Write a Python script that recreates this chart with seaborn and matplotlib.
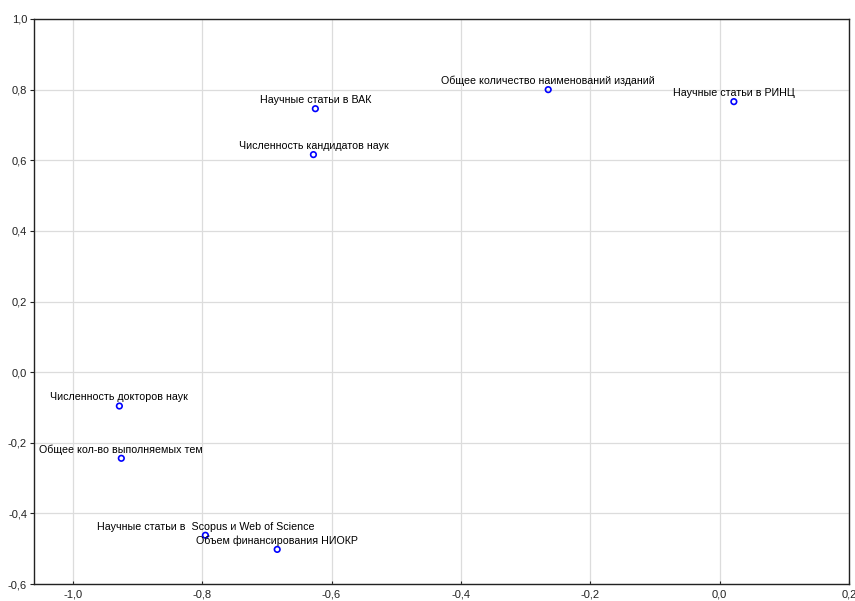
import matplotlib
matplotlib.use("Agg")
import matplotlib.pyplot as plt
import seaborn as sns
import pandas as pd
from matplotlib.ticker import FuncFormatter, MultipleLocator

labels = [
    "Научные статьи в ВАК",
    "Численность кандидатов наук",
    "Общее количество наименований изданий",
    "Научные статьи в РИНЦ",
    "Численность докторов наук",
    "Общее кол-во выполняемых тем",
    "Научные статьи в  Scopus и Web of Science",
    "Объем финансирования НИОКР",
]
x_vals = [-0.625, -0.628, -0.265, 0.022, -0.928, -0.925, -0.795, -0.684]
y_vals = [0.746, 0.616, 0.800, 0.766, -0.096, -0.244, -0.462, -0.502]

df = pd.DataFrame({"x": x_vals, "y": y_vals, "label": labels})

sns.set_theme(style="white")
plt.rcParams["font.family"] = ["Liberation Sans", "DejaVu Sans"]

fig = plt.figure(figsize=(8.55, 6.01), dpi=100)
ax = fig.add_axes([34 / 855, 17 / 601, (849 - 34) / 855, (584 - 19) / 601])

sns.scatterplot(data=df, x="x", y="y", ax=ax, marker="o", s=16,
                facecolors="none", edgecolor="#0000ff", linewidth=1.2, zorder=3)

for _, r in df.iterrows():
    ax.annotate(r["label"], (r["x"], r["y"]), xytext=(0, 4), textcoords="offset points",
                ha="center", va="baseline", fontsize=7.7, color="black", zorder=4)

ax.set_xlim(-1.06, 0.2)
ax.set_ylim(-0.6, 1.0)
ax.xaxis.set_major_locator(MultipleLocator(0.2))
ax.yaxis.set_major_locator(MultipleLocator(0.2))
fmt = FuncFormatter(lambda v, p: ("%.1f" % v).replace(".", ",").replace("-0,0", "0,0"))
ax.xaxis.set_major_formatter(fmt)
ax.yaxis.set_major_formatter(fmt)
ax.set_xlabel("")
ax.set_ylabel("")
ax.grid(True, color="#dcdcdc", linewidth=0.9)
ax.set_axisbelow(True)
for s in ax.spines.values():
    s.set_visible(True)
    s.set_color("#222222")
    s.set_linewidth(1.0)
ax.tick_params(axis="y", labelsize=8, labelcolor="#222222", length=3, width=0.8,
               color="#222222", direction="out", left=True, pad=2)
ax.tick_params(axis="x", labelsize=8, labelcolor="#222222", length=2.5, width=0.8,
               color="#222222", direction="in", bottom=True, pad=4)

fig.savefig("out.png", dpi=100)
